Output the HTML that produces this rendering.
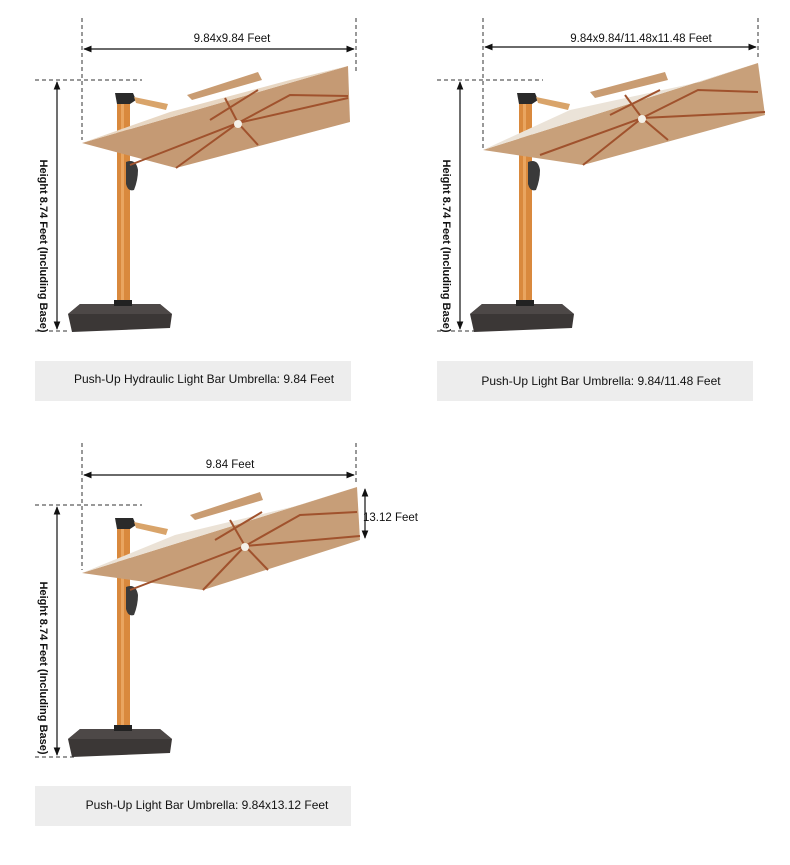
<!DOCTYPE html>
<html><head><meta charset="utf-8"><style>
body{margin:0;background:#fff;width:790px;height:865px;overflow:hidden;font-family:"Liberation Sans",sans-serif}
svg{display:block}
</style></head><body>
<svg width="790" height="865" viewBox="0 0 790 865" xmlns="http://www.w3.org/2000/svg" font-family="Liberation Sans, sans-serif">
<defs>
<marker id="a" viewBox="0 0 10 10" refX="9" refY="5" markerWidth="7" markerHeight="7" orient="auto-start-reverse"><path d="M0,1 L10,5 L0,9 z" fill="#111"/></marker>
<g id="pole">
  <rect x="117" y="98" width="13" height="210" fill="#d9893d"/>
  <rect x="121" y="98" width="3" height="210" fill="#e9a560"/>
  <path d="M115,93 L133,93 L136,100 L130,104 L117,104 Z" fill="#2a2a2a"/>
  <path d="M134,97 L168,104 L166,110 L136,103 Z" fill="#d9a46a"/>
  <path d="M68,314 L80,304 L160,304 L172,314 L170,328 L72,332 Z" fill="#3b3736"/>
  <path d="M68,314 L80,304 L160,304 L172,314 Z" fill="#4d4847"/>
  <rect x="114" y="300" width="18" height="6" fill="#222"/>
  <path d="M126,162 q10,-4 12,8 q0,10 -4,20 q-6,2 -8,-6 z" fill="#3a3a3a"/>
</g>
</defs>

<!-- ===== Umbrella 1 ===== -->
<line x1="82" y1="18" x2="82" y2="140" stroke="#333" stroke-dasharray="4,3"/>
<line x1="356" y1="18" x2="356" y2="72" stroke="#333" stroke-dasharray="4,3"/>
<line x1="84" y1="49" x2="354" y2="49" stroke="#111" stroke-width="1.2" marker-start="url(#a)" marker-end="url(#a)"/>
<text x="232" y="42" font-size="11.5" text-anchor="middle" fill="#111">9.84x9.84 Feet</text>
<line x1="35" y1="80" x2="142" y2="80" stroke="#333" stroke-dasharray="4,3"/>
<line x1="35" y1="331" x2="68" y2="331" stroke="#333" stroke-dasharray="4,3"/>
<line x1="57" y1="82" x2="57" y2="329" stroke="#111" stroke-width="1.2" marker-start="url(#a)" marker-end="url(#a)"/>
<text transform="translate(40,246) rotate(90)" font-size="11" font-weight="bold" text-anchor="middle" fill="#111">Height 8.74 Feet (Including Base)</text>
<use href="#pole"/>
<path d="M187,95 L258,72 L262,80 L192,100 Z" fill="#c99c72"/>
<path d="M82,143 L348,66 L350,122 L176,168 Z" fill="#c59a74"/>
<path d="M82,143 L348,66 L290,80 L170,112 Z" fill="#e8d7c3"/>
<g stroke="#a0522d" stroke-width="2" fill="none">
<path d="M130,165 L238,123 L348,98"/><path d="M238,123 L176,168"/><path d="M238,123 L258,145"/><path d="M238,123 L225,98"/><path d="M238,123 L290,95 L348,96"/><path d="M210,120 L258,90"/>
</g>
<circle cx="238" cy="124" r="4" fill="#f4f0e8"/>
<rect x="35" y="361" width="316" height="40" fill="#ededed"/>
<text x="204" y="383" font-size="12" font-weight="500" text-anchor="middle" fill="#111">Push-Up Hydraulic Light Bar Umbrella: 9.84 Feet</text>

<!-- ===== Umbrella 2 ===== -->
<line x1="483" y1="18" x2="483" y2="148" stroke="#333" stroke-dasharray="4,3"/>
<line x1="758" y1="18" x2="758" y2="60" stroke="#333" stroke-dasharray="4,3"/>
<line x1="485" y1="47" x2="756" y2="47" stroke="#111" stroke-width="1.2" marker-start="url(#a)" marker-end="url(#a)"/>
<text x="641" y="42" font-size="11.5" text-anchor="middle" fill="#111">9.84x9.84/11.48x11.48 Feet</text>
<line x1="437" y1="80" x2="543" y2="80" stroke="#333" stroke-dasharray="4,3"/>
<line x1="437" y1="331" x2="476" y2="331" stroke="#333" stroke-dasharray="4,3"/>
<line x1="460" y1="82" x2="460" y2="329" stroke="#111" stroke-width="1.2" marker-start="url(#a)" marker-end="url(#a)"/>
<text transform="translate(443,246) rotate(90)" font-size="11" font-weight="bold" text-anchor="middle" fill="#111">Height 8.74 Feet (Including Base)</text>
<use href="#pole" transform="translate(402,0)"/>
<path d="M590,92 L665,72 L668,80 L595,98 Z" fill="#c99c72"/>
<path d="M483,150 L758,63 L765,115 L583,165 Z" fill="#c8a07a"/>
<path d="M483,150 L758,63 L700,82 L570,110 Z" fill="#ebe3d8"/>
<g stroke="#a0522d" stroke-width="2" fill="none">
<path d="M540,155 L642,118 L765,112"/><path d="M642,118 L583,165"/><path d="M642,118 L668,140"/><path d="M642,118 L625,95"/><path d="M642,118 L698,90 L758,92"/><path d="M610,115 L660,90"/>
</g>
<circle cx="642" cy="119" r="4" fill="#f4f0e8"/>
<rect x="437" y="361" width="316" height="40" fill="#ededed"/>
<text x="601" y="385" font-size="12" font-weight="500" text-anchor="middle" fill="#111">Push-Up Light Bar Umbrella: 9.84/11.48 Feet</text>

<!-- ===== Umbrella 3 ===== -->
<line x1="82" y1="443" x2="82" y2="570" stroke="#333" stroke-dasharray="4,3"/>
<line x1="356" y1="443" x2="356" y2="485" stroke="#333" stroke-dasharray="4,3"/>
<line x1="84" y1="475" x2="354" y2="475" stroke="#111" stroke-width="1.2" marker-start="url(#a)" marker-end="url(#a)"/>
<text x="230" y="468" font-size="11.5" text-anchor="middle" fill="#111">9.84 Feet</text>
<line x1="35" y1="505" x2="142" y2="505" stroke="#333" stroke-dasharray="4,3"/>
<line x1="35" y1="757" x2="74" y2="757" stroke="#333" stroke-dasharray="4,3"/>
<line x1="57" y1="507" x2="57" y2="755" stroke="#111" stroke-width="1.2" marker-start="url(#a)" marker-end="url(#a)"/>
<text transform="translate(40,668) rotate(90)" font-size="11" font-weight="bold" text-anchor="middle" fill="#111">Height 8.74 Feet (Including Base)</text>
<use href="#pole" transform="translate(0,425)"/>
<path d="M190,515 L260,492 L263,500 L195,520 Z" fill="#c99c72"/>
<path d="M82,573 L357,487 L360,540 L203,590 Z" fill="#c79e78"/>
<path d="M82,573 L357,487 L300,505 L175,535 Z" fill="#ebe2d6"/>
<g stroke="#a0522d" stroke-width="2" fill="none">
<path d="M130,590 L245,546 L360,536"/><path d="M245,546 L203,590"/><path d="M245,546 L268,570"/><path d="M245,546 L230,520"/><path d="M245,546 L300,515 L357,512"/><path d="M215,540 L262,512"/>
</g>
<circle cx="245" cy="547" r="4" fill="#f4f0e8"/>
<line x1="365" y1="489" x2="365" y2="538" stroke="#111" stroke-width="1.2" marker-start="url(#a)" marker-end="url(#a)"/>
<text x="363" y="521" font-size="11.5" fill="#111">13.12 Feet</text>
<rect x="35" y="786" width="316" height="40" fill="#ededed"/>
<text x="207" y="809" font-size="12" font-weight="500" text-anchor="middle" fill="#111">Push-Up Light Bar Umbrella: 9.84x13.12 Feet</text>
</svg>
</body></html>
